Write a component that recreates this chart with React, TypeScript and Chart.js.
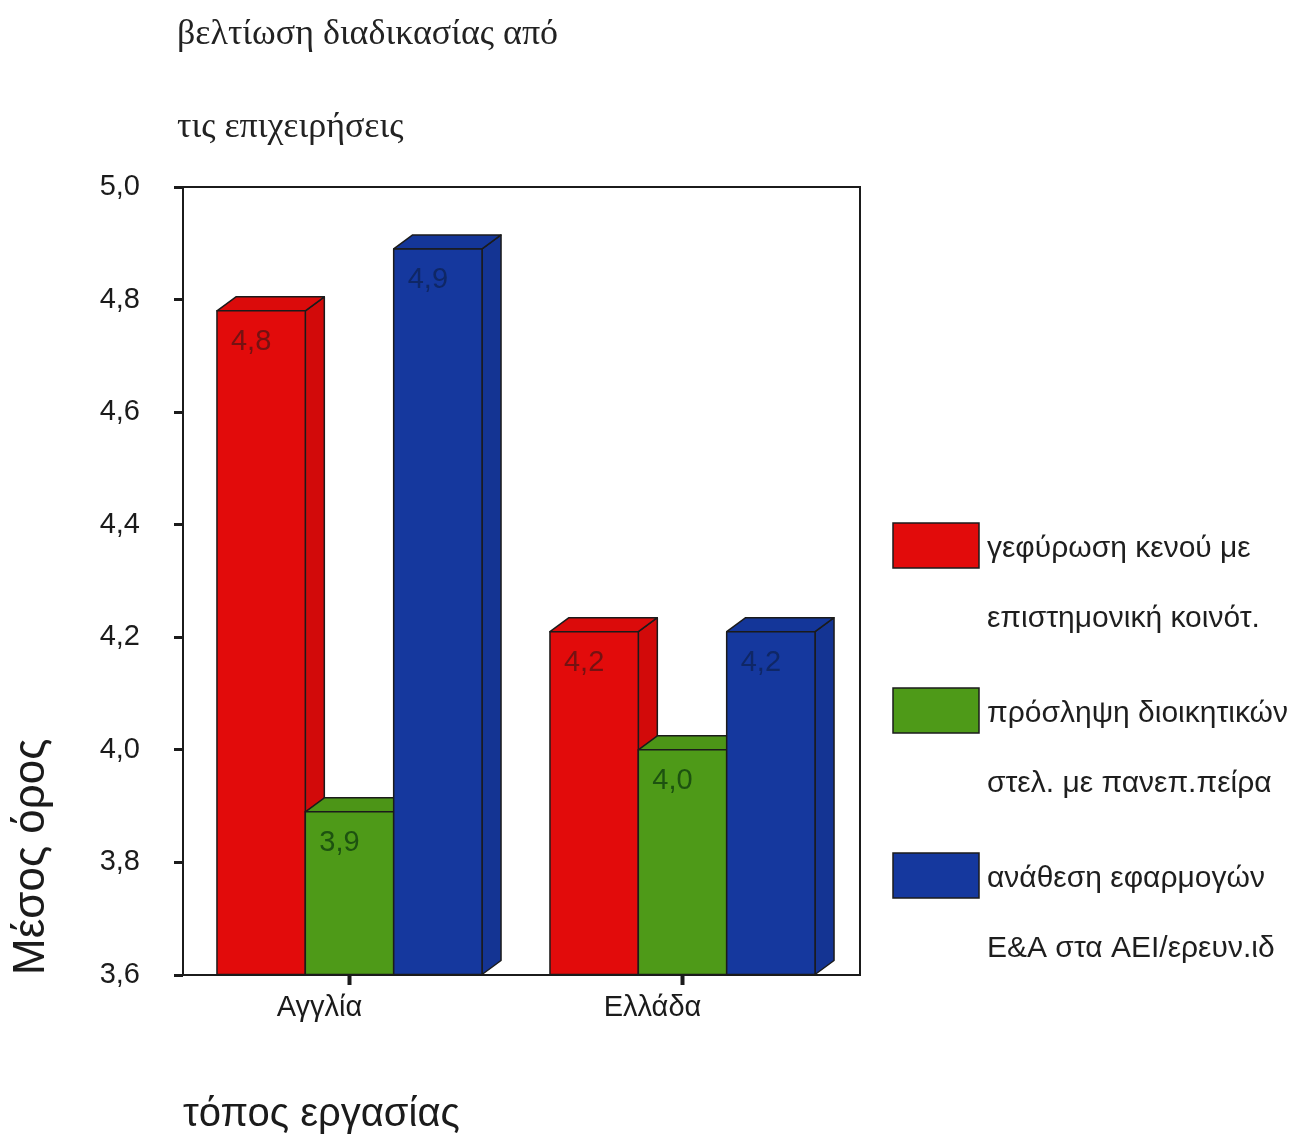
import { useEffect, useRef } from 'react';
import { Chart, registerables } from 'chart.js';

Chart.register(...registerables);

// Mean scores per workplace (country) for three ways firms improve the process
const categories = ['Αγγλία', 'Ελλάδα'];
const bridgingGap = [4.78, 4.21];
const hiringStaff = [3.89, 4.0];
const assigningRnD = [4.89, 4.21];

const seriesNames = [
  ['γεφύρωση κενού με', 'επιστημονική κοινότ.'],
  ['πρόσληψη διοικητικών', 'στελ. με πανεπ.πείρα'],
  ['ανάθεση εφαρμογών', 'Ε&Α στα ΑΕΙ/ερευν.ιδ'],
];
const seriesValues = [bridgingGap, hiringStaff, assigningRnD];
const seriesColors = ['#e20b0b', '#4e9a18', '#15389e'];
const valueLabelColors = ['#741212', '#1d5210', '#0f2766'];

const titleLines = ['βελτίωση διαδικασίας από', 'τις επιχειρήσεις'];
const yAxisTitle = 'Μέσος όρος';
const xAxisTitle = 'τόπος εργασίας';
const yMin = 3.6;
const yMax = 5.0;
const yStep = 0.2;

const SANS = '"Liberation Sans", Arial, sans-serif';
const SERIF = '"Liberation Serif", "Times New Roman", serif';
const INK = '#1b1b1b';
const DEPTH_X = 19;
const DEPTH_Y = 14;

function shade(hex: string, f: number): string {
  const n = parseInt(hex.slice(1), 16);
  const r = Math.round(((n >> 16) & 255) * f);
  const g = Math.round(((n >> 8) & 255) * f);
  const b = Math.round((n & 255) * f);
  return `rgb(${r},${g},${b})`;
}

const formatValue = (v: number) => Number(v).toFixed(1).replace('.', ',');

// Draws every bar as a 3D block (front, top and side faces), left to right
const bars3d = {
  id: 'bars3d',
  beforeDatasetsDraw(chart: any) {
    const ctx = chart.ctx as CanvasRenderingContext2D;
    const count = chart.data.labels.length;
    const metas = chart.data.datasets.map((_: any, i: number) => chart.getDatasetMeta(i));
    ctx.save();
    ctx.lineWidth = 1.5;
    ctx.strokeStyle = INK;
    ctx.lineJoin = 'round';
    for (let i = 0; i < count; i++) {
      metas.forEach((meta: any, d: number) => {
        const el = meta.data[i];
        const { x, y, width, base } = el.getProps(['x', 'y', 'width', 'base'], true);
        const l = x - width / 2;
        const r = x + width / 2;
        const color = seriesColors[d];
        // side face
        ctx.beginPath();
        ctx.moveTo(r, base);
        ctx.lineTo(r + DEPTH_X, base - DEPTH_Y);
        ctx.lineTo(r + DEPTH_X, y - DEPTH_Y);
        ctx.lineTo(r, y);
        ctx.closePath();
        ctx.fillStyle = shade(color, 0.93);
        ctx.fill();
        ctx.stroke();
        // top face
        ctx.beginPath();
        ctx.moveTo(l, y);
        ctx.lineTo(l + DEPTH_X, y - DEPTH_Y);
        ctx.lineTo(r + DEPTH_X, y - DEPTH_Y);
        ctx.lineTo(r, y);
        ctx.closePath();
        ctx.fillStyle = shade(color, 0.97);
        ctx.fill();
        ctx.stroke();
        // front face
        ctx.fillStyle = color;
        ctx.fillRect(l, y, width, base - y);
        ctx.strokeRect(l, y, width, base - y);
      });
    }
    ctx.restore();
    return false;
  },
};

// Frame, value labels, heading and legend
const decorations = {
  id: 'decorations',
  afterDraw(chart: any) {
    const ctx = chart.ctx as CanvasRenderingContext2D;
    const area = chart.chartArea;
    ctx.save();

    // plot frame
    ctx.lineWidth = 2;
    ctx.strokeStyle = INK;
    ctx.strokeRect(area.left, area.top, area.right - area.left + 11, area.bottom - area.top);

    // value labels inside the bars
    ctx.font = `29px ${SANS}`;
    ctx.textAlign = 'center';
    ctx.textBaseline = 'middle';
    chart.data.datasets.forEach((ds: any, d: number) => {
      const meta = chart.getDatasetMeta(d);
      meta.data.forEach((el: any, i: number) => {
        const { x, y } = el.getProps(['x', 'y'], true);
        ctx.fillStyle = valueLabelColors[d];
        ctx.fillText(formatValue(ds.data[i]), x - 10, y + 31);
      });
    });

    // heading
    ctx.font = `36px ${SERIF}`;
    ctx.fillStyle = '#222';
    ctx.textAlign = 'left';
    ctx.textBaseline = 'middle';
    titleLines.forEach((line, k) => ctx.fillText(line, 177, 35 + k * 93));

    // legend
    const boxX = 893;
    const boxW = 86;
    const boxH = 45;
    const firstTop = 523;
    const step = 165;
    chart.data.datasets.forEach((ds: any, d: number) => {
      const top = firstTop + d * step;
      ctx.fillStyle = seriesColors[d];
      ctx.fillRect(boxX, top, boxW, boxH);
      ctx.lineWidth = 1.5;
      ctx.strokeStyle = INK;
      ctx.strokeRect(boxX, top, boxW, boxH);
      ctx.font = `30px ${SANS}`;
      ctx.fillStyle = '#1e1e1e';
      const lines: string[] = ds.label;
      lines.forEach((line, k) => ctx.fillText(line, 987, top + boxH / 2 + 3 + k * 70));
    });
    ctx.restore();
  },
};

export default function App() {
  const canvasRef = useRef<HTMLCanvasElement | null>(null);

  useEffect(() => {
    const canvas = canvasRef.current;
    if (!canvas) return;
    const chart = new Chart(canvas, {
      type: 'bar',
      data: {
        labels: categories,
        datasets: seriesValues.map((values, d) => ({
          label: seriesNames[d] as any,
          data: values,
          base: yMin,
          backgroundColor: seriesColors[d],
          categoryPercentage: 0.796,
          barPercentage: 1.0,
        })),
      },
      options: {
        responsive: false,
        animation: false,
        devicePixelRatio: 1,
        events: [],
        layout: { padding: { left: 0, top: 187, right: 460, bottom: 0 } },
        plugins: {
          legend: { display: false },
          tooltip: { enabled: false },
          title: { display: false },
        },
        scales: {
          x: {
            offset: true,
            grid: {
              display: true,
              drawOnChartArea: false,
              offset: false,
              tickLength: 10,
              tickWidth: 4,
              color: INK,
            },
            border: { display: false },
            ticks: {
              font: { family: SANS, size: 29 },
              color: INK,
              labelOffset: -30,
              padding: 6,
              maxRotation: 0,
            },
            title: {
              display: true,
              text: xAxisTitle,
              align: 'start',
              color: INK,
              font: { family: SANS, size: 40 },
              padding: { top: 0, bottom: 5 },
            },
            afterFit: (scale: any) => {
              scale.height = 169;
            },
          },
          y: {
            min: yMin,
            max: yMax,
            grid: {
              display: true,
              drawOnChartArea: false,
              tickLength: 9,
              tickWidth: 3,
              color: INK,
            },
            border: { display: false },
            ticks: {
              stepSize: yStep,
              font: { family: SANS, size: 29 },
              color: INK,
              padding: 34,
              callback: (v: any) => formatValue(v),
            },
            title: {
              display: true,
              text: yAxisTitle,
              align: 'start',
              color: INK,
              font: { family: SANS, size: 44 },
              padding: { top: 5, bottom: 0 },
            },
            afterFit: (scale: any) => {
              scale.width = 183;
            },
          },
        },
      },
      plugins: [bars3d, decorations],
    } as any);
    return () => chart.destroy();
  }, []);

  return (
    <div style={{ position: 'absolute', left: 0, top: 0, width: 1309, height: 1144, background: '#fff' }}>
      <canvas ref={canvasRef} width={1309} height={1144} style={{ display: 'block' }} />
    </div>
  );
}
